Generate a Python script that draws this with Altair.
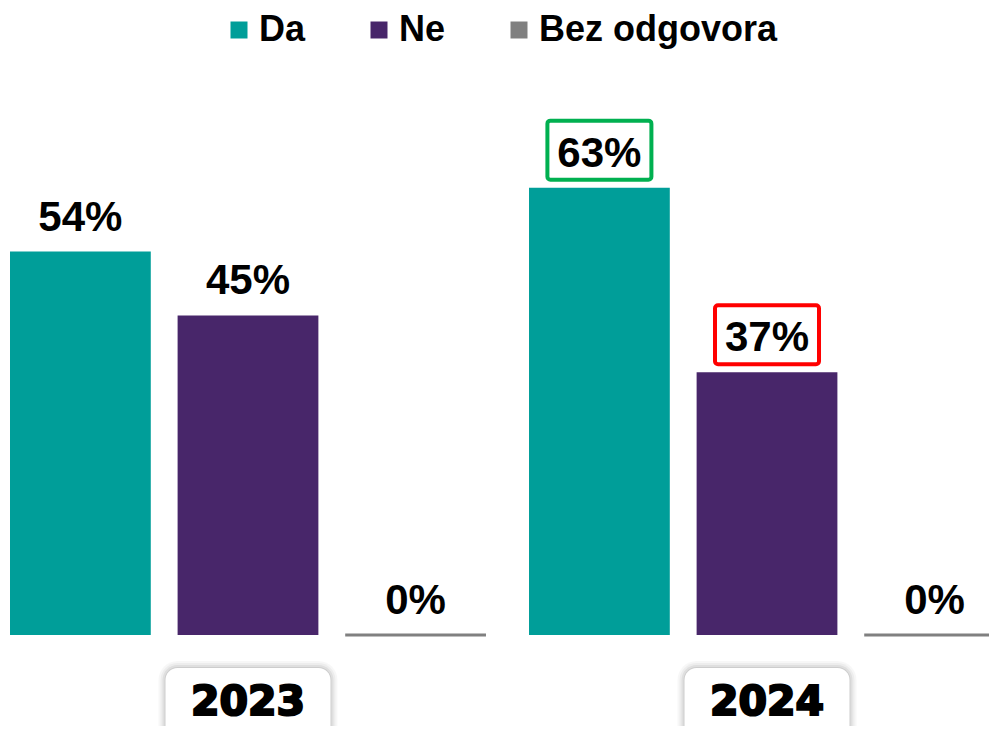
import altair as alt
import pandas as pd

# ---- data ----
years = ["2023", "2024"]
categories = ["Da", "Ne", "Bez odgovora"]
values_2023 = [54, 45, 0]
values_2024 = [63, 37, 0]
colors = ["#009E99", "#48266A", "#808080"]

highlight_year = "2024"
highlight_cats = ["Da", "Ne"]
highlight_colors = ["#00B050", "#FF0000"]

rows = []
for y, vals in zip(years, [values_2023, values_2024]):
    for c, v in zip(categories, vals):
        rows.append({"year": y, "category": c, "value": v, "label": f"{v}%"})
df = pd.DataFrame(rows)

hl = pd.DataFrame({"year": [highlight_year] * len(highlight_cats),
                   "category": highlight_cats,
                   "hcolor": highlight_colors})
df_hl = df.merge(hl, on=["year", "category"])
df_years = pd.DataFrame({"year": years})

FONT = "Liberation Sans"

x_enc = alt.X("year:N", sort=years, axis=None,
              scale=alt.Scale(range=[2, 997], paddingInner=0.0829, paddingOuter=0))
xo_enc = alt.XOffset("category:N", sort=categories,
                     scale=alt.Scale(paddingInner=0.16, paddingOuter=0))
y_scale = alt.Scale(domain=[0, 88.3], nice=False, zero=True)
y_enc = alt.Y("value:Q", scale=y_scale, axis=None)
color_enc = alt.Color(
    "category:N", sort=categories,
    scale=alt.Scale(domain=categories, range=colors),
    legend=alt.Legend(
        title=None, orient="none", direction="horizontal",
        legendX=213, legendY=4,
        symbolType="square", symbolSize=289, symbolStrokeWidth=0,
        labelFont=FONT, labelFontSize=36, labelFontWeight="bold",
        labelColor="black", labelOffset=2, columnPadding=55,
        labelLimit=400, padding=0,
    ),
)

base = alt.Chart(df)

bars = base.mark_bar().encode(x=x_enc, xOffset=xo_enc, y=y_enc, color=color_enc)

zero_line = base.transform_filter("datum.value == 0").mark_bar(
    yOffset=-1.5, y2Offset=1.5
).encode(x=x_enc, xOffset=xo_enc, y=y_enc, y2="value:Q", color=color_enc)

boxes = alt.Chart(df_hl).mark_bar(
    width=104, fill="white", strokeWidth=4, cornerRadius=3,
    yOffset=-67, y2Offset=-8
).encode(
    x=x_enc, xOffset=xo_enc, y=y_enc, y2="value:Q",
    stroke=alt.Stroke("hcolor:N", scale=None),
)

labels = base.mark_text(
    font=FONT, fontSize=42, fontWeight="bold", color="black",
    baseline="alphabetic", dy=-21
).encode(x=x_enc, xOffset=xo_enc, y=y_enc, text="label:N")

# year boxes with soft shadow
shadows = []
for k, op in [(7, 0.03), (5, 0.04), (3, 0.06), (1, 0.08)]:
    shadows.append(
        alt.Chart(df_years).mark_bar(
            width=165 + 2 * k, cornerRadius=12 + k, color="black", opacity=op
        ).encode(x=x_enc, y=alt.value(660 - k), y2=alt.value(820))
    )
year_box = alt.Chart(df_years).mark_bar(
    width=165, cornerRadius=12, color="white"
).encode(x=x_enc, y=alt.value(660), y2=alt.value(820))
year_text = alt.Chart(df_years).mark_text(
    font="DejaVu Sans", fontSize=41, fontWeight="bold", color="black",
    stroke="black", strokeWidth=2.2, baseline="alphabetic"
).encode(x=x_enc, y=alt.value(707), text="year:N")

chart = alt.layer(
    bars, zero_line, boxes, labels, *shadows, year_box, year_text
).properties(
    width=981, height=627, autosize="none",
    padding={"left": 0, "top": 0, "right": 0, "bottom": 91},
).configure(background="white").configure_view(stroke=None)

chart.save("out.html", embed_options={"renderer": "svg", "actions": False})
